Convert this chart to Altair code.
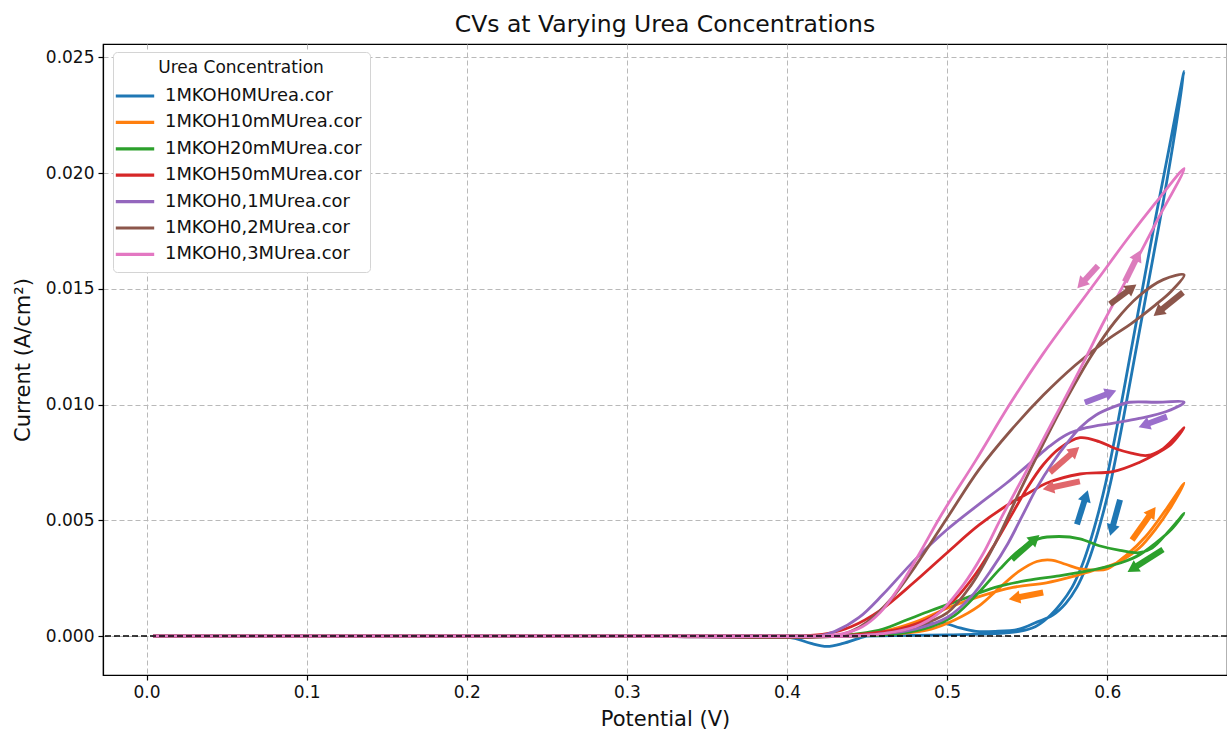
import math
import altair as alt
import pandas as pd

# ---------------- data ----------------
series_names = ["1MKOH0MUrea.cor", "1MKOH10mMUrea.cor", "1MKOH20mMUrea.cor",
                "1MKOH50mMUrea.cor", "1MKOH0,1MUrea.cor", "1MKOH0,2MUrea.cor",
                "1MKOH0,3MUrea.cor"]
colors = ["#1f77b4", "#ff7f0e", "#2ca02c", "#d62728", "#9467bd", "#8c564b", "#e377c2"]

# 0 M urea: forward scan then reverse scan
x_0M = [0.004, 0.1, 0.2, 0.3, 0.4, 0.45, 0.5, 0.53, 0.545, 0.555, 0.563, 0.571, 0.578,
        0.584, 0.589, 0.594, 0.599, 0.606, 0.614, 0.622, 0.630, 0.639, 0.648,
        0.641, 0.633, 0.625, 0.617, 0.609, 0.602, 0.597, 0.592, 0.587, 0.581, 0.574,
        0.566, 0.556, 0.545, 0.53, 0.518, 0.508, 0.498, 0.485, 0.47, 0.455, 0.445,
        0.435, 0.425, 0.415, 0.405, 0.395, 0.3, 0.2, 0.1, 0.004]
y_0M = [0.0, 0.0, 0.0, 0.0, 0.0, 0.0, 0.00005, 0.0001, 0.0002, 0.0004, 0.0008, 0.0014, 0.0021,
        0.0030, 0.0040, 0.0052, 0.0066, 0.0090, 0.0120, 0.0150, 0.0180, 0.0212, 0.0244,
        0.0212, 0.0180, 0.0150, 0.0120, 0.0090, 0.0066, 0.0052, 0.0040, 0.0030, 0.0021, 0.0014,
        0.0009, 0.0006, 0.0003, 0.0002, 0.0002, 0.00035, 0.00055, 0.00048, 0.0003, 0.0001, -0.0001,
        -0.00032, -0.00045, -0.00032, -0.0001, 0.0, 0.0, 0.0, 0.0, 0.0]

x_10mM = [0.004, 0.1, 0.2, 0.3, 0.4, 0.44, 0.47, 0.49, 0.505, 0.52, 0.533, 0.545, 0.556,
          0.565, 0.574, 0.583, 0.592, 0.600, 0.612, 0.624, 0.637, 0.648,
          0.640, 0.630, 0.620, 0.610, 0.600, 0.590, 0.580, 0.562, 0.541, 0.520, 0.500,
          0.480, 0.460, 0.440, 0.420, 0.3, 0.2, 0.1, 0.004]
y_10mM = [0.0, 0.0, 0.0, 0.0, 0.0, 0.0, 0.0001, 0.0003, 0.0007, 0.0013, 0.0021, 0.0028, 0.00322,
          0.00328, 0.0031, 0.0029, 0.00285, 0.0029, 0.0035, 0.0043, 0.0055, 0.0066,
          0.0056, 0.0046, 0.0038, 0.0033, 0.0030, 0.0028, 0.0026, 0.0023, 0.0021, 0.0017, 0.0012,
          0.0006, 0.0002, 0.00005, 0.0, 0.0, 0.0, 0.0, 0.0]

x_20mM = [0.004, 0.1, 0.2, 0.3, 0.4, 0.44, 0.47, 0.49, 0.505, 0.52, 0.533, 0.545, 0.557,
          0.570, 0.583, 0.595, 0.608, 0.620, 0.628, 0.638, 0.648,
          0.640, 0.630, 0.620, 0.610, 0.600, 0.587, 0.570, 0.550, 0.530, 0.510, 0.490,
          0.475, 0.460, 0.445, 0.430, 0.3, 0.2, 0.1, 0.004]
y_20mM = [0.0, 0.0, 0.0, 0.0, 0.0, 0.0, 0.0001, 0.0004, 0.0009, 0.0019, 0.0029, 0.0037, 0.0042,
          0.0043, 0.0042, 0.0039, 0.0037, 0.0036, 0.0038, 0.0045, 0.0053,
          0.0046, 0.0040, 0.0035, 0.0032, 0.0030, 0.0028, 0.0026, 0.0024, 0.0021, 0.0016, 0.0011,
          0.0007, 0.0003, 0.0001, 0.0, 0.0, 0.0, 0.0, 0.0]

x_50mM = [0.004, 0.1, 0.2, 0.3, 0.4, 0.43, 0.45, 0.47, 0.49, 0.505, 0.518, 0.53, 0.54, 0.55,
          0.56, 0.57, 0.583, 0.595, 0.605, 0.615, 0.625, 0.635, 0.648,
          0.640, 0.630, 0.620, 0.6035, 0.583, 0.562, 0.5515, 0.541, 0.520, 0.500, 0.479,
          0.458, 0.440, 0.425, 0.410, 0.3, 0.2, 0.1, 0.004]
y_50mM = [0.0, 0.0, 0.0, 0.0, 0.0, 0.0, 0.0001, 0.0003, 0.0008, 0.0016, 0.0027, 0.0040, 0.0052, 0.0064,
          0.0074, 0.0081, 0.00857, 0.0084, 0.0081, 0.0079, 0.0078, 0.0081, 0.0090,
          0.0083, 0.00785, 0.0075, 0.0071, 0.0070, 0.0066, 0.0062, 0.0058, 0.0048, 0.0036, 0.0023,
          0.0011, 0.0004, 0.0001, 0.0, 0.0, 0.0, 0.0, 0.0]

x_01M = [0.004, 0.1, 0.2, 0.3, 0.4, 0.44, 0.46, 0.48, 0.50, 0.515, 0.528, 0.538, 0.547, 0.556,
         0.566, 0.5745, 0.583, 0.593, 0.604, 0.614, 0.630, 0.648,
         0.637, 0.620, 0.604, 0.587, 0.5745, 0.564, 0.554, 0.537, 0.520, 0.500, 0.480,
         0.460, 0.445, 0.430, 0.420, 0.3, 0.2, 0.1, 0.004]
y_01M = [0.0, 0.0, 0.0, 0.0, 0.0, 0.0, 0.0001, 0.0003, 0.0008, 0.0017, 0.0029, 0.0040, 0.0052, 0.0064,
         0.0075, 0.0083, 0.0090, 0.00955, 0.0099, 0.0101, 0.0101, 0.0101,
         0.0097, 0.0094, 0.0092, 0.0090, 0.0087, 0.0082, 0.0076, 0.0066, 0.0057, 0.0046, 0.0033,
         0.0018, 0.0008, 0.0002, 0.0, 0.0, 0.0, 0.0, 0.0]

x_02M = [0.004, 0.1, 0.2, 0.3, 0.4, 0.44, 0.46, 0.48, 0.50, 0.515, 0.53, 0.545, 0.56, 0.575,
         0.59, 0.605, 0.62, 0.635, 0.648,
         0.640, 0.630, 0.615, 0.600, 0.580, 0.560, 0.540, 0.520, 0.500, 0.480, 0.465,
         0.450, 0.440, 0.430, 0.3, 0.2, 0.1, 0.004]
y_02M = [0.0, 0.0, 0.0, 0.0, 0.0, 0.0, 0.0001, 0.0004, 0.0010, 0.0022, 0.0040, 0.0062, 0.0083, 0.0103,
         0.0121, 0.0136, 0.0147, 0.0154, 0.0156,
         0.0149, 0.0143, 0.0135, 0.0128, 0.0117, 0.0104, 0.0089, 0.0072, 0.0051, 0.0030, 0.0016,
         0.0006, 0.0002, 0.0, 0.0, 0.0, 0.0, 0.0]

x_03M = [0.004, 0.1, 0.2, 0.3, 0.4, 0.44, 0.46, 0.48, 0.495, 0.51, 0.522, 0.533, 0.547, 0.56,
         0.5715, 0.585, 0.598, 0.612, 0.630, 0.648,
         0.630, 0.612, 0.595, 0.580, 0.560, 0.539, 0.518, 0.497, 0.483, 0.470, 0.458,
         0.447, 0.435, 0.420, 0.3, 0.2, 0.1, 0.004]
y_03M = [0.0, 0.0, 0.0, 0.0, 0.0, 0.0, 0.0001, 0.0004, 0.0010, 0.0022, 0.0035, 0.0050, 0.0068, 0.0085,
         0.0100, 0.0118, 0.0136, 0.0154, 0.0178, 0.0202,
         0.0187, 0.0171, 0.0155, 0.0141, 0.0122, 0.0100, 0.0076, 0.0053, 0.0036, 0.0021, 0.0010,
         0.0004, 0.0001, 0.0, 0.0, 0.0, 0.0, 0.0]

series_x = [x_0M, x_10mM, x_20mM, x_50mM, x_01M, x_02M, x_03M]
series_y = [y_0M, y_10mM, y_20mM, y_50mM, y_01M, y_02M, y_03M]

# scan-direction arrows: start and end points in data units
arrow_x0 = [0.5811, 0.6080, 0.6155, 0.5600, 0.5405, 0.6348, 0.5642, 0.5829, 0.5860, 0.6373, 0.6017, 0.6473, 0.5942, 0.6110]
arrow_y0 = [0.00482, 0.00589, 0.00415, 0.00188, 0.00331, 0.00374, 0.00707, 0.00668, 0.01009, 0.00948, 0.01434, 0.01485, 0.0160, 0.0153]
arrow_x1 = [0.5880, 0.6017, 0.6305, 0.5380, 0.5580, 0.6123, 0.5829, 0.5592, 0.6061, 0.6192, 0.6186, 0.6286, 0.5810, 0.6210]
arrow_y1 = [0.00633, 0.00430, 0.00560, 0.00158, 0.00439, 0.00275, 0.00819, 0.00633, 0.01062, 0.00901, 0.01521, 0.01381, 0.0150, 0.0167]
arrow_colors = ["#1f77b4", "#1f77b4", "#ff7f0e", "#ff7f0e", "#2ca02c", "#2ca02c",
                "#e0676c", "#e0676c", "#9a6fcc", "#9a6fcc", "#8c564b", "#8c564b",
                "#dc7cbc", "#dc7cbc"]

x_ticks = [0.0, 0.1, 0.2, 0.3, 0.4, 0.5, 0.6]
y_ticks = [0.0, 0.005, 0.010, 0.015, 0.020, 0.025]

# ---------------- layout constants ----------------
X_MIN, X_MAX = -0.0272, 0.6748
Y_MIN, Y_MAX = -0.001685, 0.02558
W, H = 1124, 631
FONT = "DejaVu Sans"

rows = []
for name, xs, ys in zip(series_names, series_x, series_y):
    for i, (xv, yv) in enumerate(zip(xs, ys)):
        rows.append({"series": name, "x": xv, "y": yv, "i": i})
df = pd.DataFrame(rows)

# arrow geometry (body + head) derived from the arrow endpoints
SX = W / (X_MAX - X_MIN)
SY = H / (Y_MAX - Y_MIN)
HEAD_R = 6.5
arows = []
for x0, y0, x1, y1, c in zip(arrow_x0, arrow_y0, arrow_x1, arrow_y1, arrow_colors):
    dxp, dyp = (x1 - x0) * SX, (y1 - y0) * SY
    L = math.hypot(dxp, dyp)
    ux, uy = dxp / L, dyp / L
    arows.append({
        "x0": x0, "y0": y0,
        "xb": x1 - 1.5 * HEAD_R * ux / SX, "yb": y1 - 1.5 * HEAD_R * uy / SY,
        "xh": x1 - HEAD_R * ux / SX, "yh": y1 - HEAD_R * uy / SY,
        "angle": (math.degrees(math.atan2(dxp, dyp)) + 360) % 360,
        "c": c,
    })
adf = pd.DataFrame(arows)

xscale = alt.Scale(domain=[X_MIN, X_MAX], nice=False, zero=False)
yscale = alt.Scale(domain=[Y_MIN, Y_MAX], nice=False, zero=False)
color_scale = alt.Scale(domain=series_names, range=colors)

axis_common = dict(grid=True, gridDash=[5, 3], gridColor="#b9b9b9", gridWidth=1,
                   domainColor="black", domainWidth=1.2, tickColor="black", tickSize=5,
                   tickWidth=1.2, labelFontSize=17, labelFont=FONT, labelColor="#111",
                   titleFontSize=21, titleFont=FONT, titleFontWeight="normal",
                   titleColor="#111", labelOverlap=False, labelFlush=False, labelPadding=4)
xaxis = alt.Axis(values=x_ticks, format=".1f", titlePadding=8, **axis_common)
yaxis = alt.Axis(values=y_ticks, format=".3f", titlePadding=12, **axis_common)

legend = alt.Legend(title="Urea Concentration", orient="none", legendX=10, legendY=8,
                    symbolType="M-1.6,0L1.6,0", symbolStrokeWidth=3.2, symbolSize=576,
                    rowPadding=3.4, labelFontSize=17.9, labelFont=FONT, labelColor="#111",
                    titleFontSize=17, titleFont=FONT, titleFontWeight="normal",
                    titleColor="#111", titleAnchor="middle", titleAlign="center",
                    labelOffset=16, padding=8, fillColor="white", strokeColor="#d4d4d4",
                    cornerRadius=4, titlePadding=5, labelLimit=400)

layers = []
for name in series_names:
    layers.append(
        alt.Chart(df[df.series == name]).mark_line(
            strokeWidth=2.8, interpolate="catmull-rom", clip=True
        ).encode(
            x=alt.X("x:Q", scale=xscale, axis=xaxis, title="Potential (V)"),
            y=alt.Y("y:Q", scale=yscale, axis=yaxis, title="Current (A/cm²)"),
            color=alt.Color("series:N", scale=color_scale, legend=legend),
            order=alt.Order("i:Q"),
        )
    )

zero_line = alt.Chart(pd.DataFrame({"y": [0.0]})).mark_rule(
    color="black", strokeDash=[6, 3], strokeWidth=1.5
).encode(y=alt.Y("y:Q", scale=yscale))

arrow_body = alt.Chart(adf).mark_rule(strokeWidth=6, strokeCap="butt").encode(
    x=alt.X("x0:Q", scale=xscale), y=alt.Y("y0:Q", scale=yscale),
    x2="xb:Q", y2="yb:Q", color=alt.Color("c:N", scale=None),
)
arrow_head = alt.Chart(adf).mark_point(shape="triangle-up", filled=True, size=175, opacity=1).encode(
    x=alt.X("xh:Q", scale=xscale), y=alt.Y("yh:Q", scale=yscale),
    angle=alt.Angle("angle:Q", scale=None), color=alt.Color("c:N", scale=None),
)

chart = alt.layer(*layers, arrow_body, arrow_head, zero_line).properties(
    width=W, height=H,
    title=alt.TitleParams("CVs at Varying Urea Concentrations", fontSize=23.5, font=FONT,
                          fontWeight="normal", anchor="middle", offset=8, color="#111"),
    padding={"left": 103, "top": 44, "right": 0, "bottom": 57},
    autosize=alt.AutoSizeParams(type="none"),
).configure_view(stroke="black", strokeWidth=1.2)

chart.save("out.html", embed_options={"renderer": "svg", "actions": False})
